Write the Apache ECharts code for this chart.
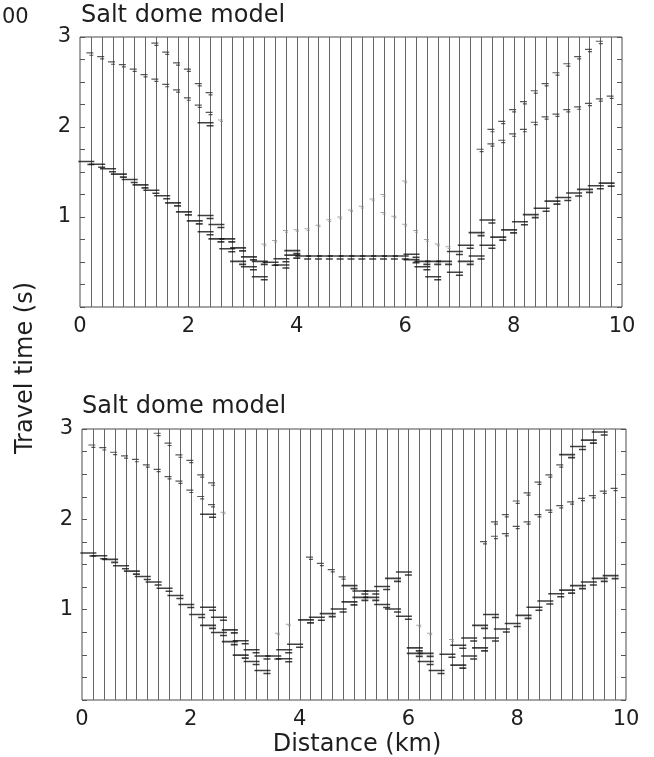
<!DOCTYPE html>
<html>
<head>
<meta charset="utf-8">
<title>Salt dome model</title>
<script src="https://cdn.jsdelivr.net/npm/echarts@6/dist/echarts.min.js"></script>
<style>
  html, body { margin: 0; padding: 0; background: #fff; }
  #chart { width: 654px; height: 757px; }
</style>
</head>
<body>
<div id="chart"></div>
<script>
// Receiver offsets (km): one vertical trace per offset
const offsets = [0.2, 0.4, 0.6, 0.8, 1.0, 1.2, 1.4, 1.6, 1.8, 2.0, 2.2, 2.4, 2.6, 2.8, 3.0, 3.2, 3.4,
  3.6, 3.8, 4.0, 4.2, 4.4, 4.6, 4.8, 5.0, 5.2, 5.4, 5.6, 5.8, 6.0, 6.2, 6.4, 6.6, 6.8, 7.0, 7.2,
  7.4, 7.6, 7.8, 8.0, 8.2, 8.4, 8.6, 8.8, 9.0, 9.2, 9.4, 9.6, 9.8];

const xTicks = [0, 2, 4, 6, 8, 10];
const yTicks = [1, 2, 3];

// ---- Upper model: picked arrivals [offset km, travel time s] ----
const topDirect = [[0.2,1.60],[0.4,1.57],[0.6,1.52],[0.8,1.46],[1.0,1.40],[1.2,1.34],[1.4,1.28],[1.6,1.22],
  [1.8,1.14],[2.0,1.04],[2.2,0.94],[2.4,0.82],[2.6,0.74],[2.8,0.63],[3.0,0.49],[3.2,0.43],[3.4,0.32]];
const topSecond = [[2.4,1.00],[2.6,0.90],[2.8,0.74],[3.0,0.64],[3.2,0.54],[3.4,0.49],[3.6,0.48],[3.8,0.52],[4.0,0.61]];
const topDomeTop = [[3.8,0.45],[4.0,0.56],[4.2,0.55],[4.4,0.55],[4.6,0.55],[4.8,0.55],[5.0,0.55],[5.2,0.55],
  [5.4,0.55],[5.6,0.55],[5.8,0.55],[6.0,0.55],[6.2,0.57],[6.4,0.49],[6.6,0.49],[6.8,0.49]];
const topRightFirst = [[7.0,0.60],[7.2,0.67],[7.4,0.81],[7.6,0.95]];
const topRightSecond = [[6.2,0.51],[6.4,0.43],[6.6,0.32],[7.0,0.37],[7.2,0.49],[7.4,0.55],[7.6,0.67],[7.8,0.76],
  [8.0,0.84],[8.2,0.93],[8.4,1.01],[8.6,1.08],[8.8,1.16],[9.0,1.20],[9.2,1.25],[9.4,1.29],[9.6,1.33],[9.8,1.36]];
const topUpperLeftA = [[0.2,2.81],[0.4,2.77],[0.6,2.71],[0.8,2.68],[1.0,2.63],[1.2,2.57],[1.4,2.52],[1.6,2.46],
  [1.8,2.40],[2.0,2.31],[2.2,2.23],[2.4,2.15]];
const topUpperLeftB = [[1.4,2.92],[1.6,2.82],[1.8,2.70],[2.0,2.63],[2.2,2.47],[2.4,2.37]];
const topUpperStrong = [[2.4,2.03]];
const topUpperRightA = [[7.6,1.96],[7.8,2.05],[8.0,2.18],[8.2,2.27],[8.4,2.39],[8.6,2.47],[8.8,2.59],[9.0,2.69],
  [9.2,2.77],[9.4,2.85],[9.6,2.94]];
const topUpperRightB = [[7.4,1.74],[7.6,1.80],[7.8,1.84],[8.0,1.91],[8.2,1.96],[8.4,2.04],[8.6,2.10],[8.8,2.13],
  [9.0,2.18],[9.2,2.21],[9.4,2.25],[9.6,2.30],[9.8,2.33]];
const topFaintRise = [[3.4,0.69],[3.6,0.73],[3.8,0.84],[4.0,0.85],[4.2,0.86],[4.4,0.90],[4.6,0.96],[4.8,0.99],
  [5.0,1.07],[5.2,1.11],[5.4,1.19],[5.6,1.24],[6.0,1.39]];
const topFaintFall = [[5.6,1.04],[5.8,1.00],[6.0,0.91],[6.2,0.84],[6.4,0.74],[6.6,0.69],[6.8,0.66],[2.6,2.07]];

// ---- Lower model ----
const botDirect = [[0.2,1.61],[0.4,1.58],[0.6,1.54],[0.8,1.47],[1.0,1.41],[1.2,1.35],[1.4,1.29],[1.6,1.22],
  [1.8,1.14],[2.0,1.04],[2.2,0.93],[2.4,0.81],[2.6,0.73],[2.8,0.63],[3.0,0.48],[3.2,0.41],[3.4,0.31]];
const botSecond = [[2.4,1.01],[2.6,0.90],[2.8,0.76],[3.0,0.64],[3.2,0.54],[3.4,0.47],[3.6,0.47],[3.8,0.54],
  [3.8,0.44],[4.0,0.60]];
const botCrossDown = [[5.0,1.25],[5.2,1.19],[5.4,1.12],[5.6,1.04],[5.8,0.99],[6.0,0.91]];
const botCrossDownWeak = [[4.2,1.57],[4.4,1.50],[4.6,1.43],[4.8,1.35]];
const botCrossUp = [[4.2,0.87],[4.4,0.90],[4.6,0.94],[4.8,0.99],[5.0,1.07],[5.2,1.12],[5.4,1.19],[5.6,1.24],
  [5.8,1.33],[6.0,1.40]];
const botRightFirst = [[6.2,0.56],[6.4,0.50],[6.8,0.49],[7.0,0.59],[7.2,0.67],[7.4,0.81],[7.6,0.93]];
const botRightSecond = [[6.2,0.50],[6.4,0.41],[6.6,0.31],[7.0,0.37],[7.2,0.47],[7.4,0.56],[7.6,0.67],[7.8,0.77],
  [8.0,0.83],[8.2,0.92],[8.4,1.01],[8.6,1.08],[8.8,1.16],[9.0,1.20],[9.2,1.25],[9.4,1.29],[9.6,1.33],[9.8,1.36]];
const botUpperLeftA = [[0.2,2.81],[0.4,2.78],[0.6,2.73],[0.8,2.69],[1.0,2.65],[1.2,2.59],[1.4,2.54],[1.6,2.46],
  [1.8,2.41],[2.0,2.31],[2.2,2.24],[2.4,2.15]];
const botUpperLeftB = [[1.4,2.94],[1.6,2.83],[1.8,2.70],[2.0,2.64],[2.2,2.48],[2.4,2.39]];
const botUpperStrong = [[2.4,2.04],[9.0,2.70],[9.2,2.79],[9.4,2.86],[9.6,2.95]];
const botUpperRightA = [[7.6,1.96],[7.8,2.04],[8.0,2.19],[8.2,2.28],[8.4,2.40],[8.6,2.48],[8.8,2.59]];
const botUpperRightB = [[7.4,1.74],[7.6,1.80],[7.8,1.83],[8.0,1.91],[8.2,1.96],[8.4,2.04],[8.6,2.09],[8.8,2.14],
  [9.0,2.18],[9.2,2.22],[9.4,2.25],[9.6,2.30],[9.8,2.33]];
const botFaint = [[3.6,0.73],[3.8,0.83],[6.2,0.82],[6.4,0.73],[6.8,0.66],[2.6,2.07]];

// ---- mark styles ----
const FONT = 'DejaVu Sans';
const INK = '#1e1e1e';
const MARKS = {
  strong: { symbol: 'path://M0 0H16V1.6H0Z M9 3H16V4.6H9Z', size: [16, 4.6], offset: [-4.5, 0], color: '#121212' },
  medium: { symbol: 'path://M0 0H7V1.2H0Z M3 2.3H7V3.5H3Z', size: [7, 3.5], offset: [-1, 0], color: '#2e2e2e' },
  faint:  { symbol: 'path://M0 0H5V1H0Z M2 1.6H5V2.6H2Z', size: [5, 2.6], offset: [-0.5, 0], color: '#8e8e8e' }
};

function picks(data, kind, panel) {
  const m = MARKS[kind];
  return {
    type: 'scatter',
    xAxisIndex: panel,
    yAxisIndex: panel * 2,
    data: data,
    symbol: m.symbol,
    symbolSize: m.size,
    symbolOffset: m.offset,
    itemStyle: { color: m.color },
    silent: true,
    animation: false,
    z: 5
  };
}

function traces(panel) {
  return {
    type: 'custom',
    xAxisIndex: panel,
    yAxisIndex: panel * 2,
    data: offsets.map(d => [d]),
    silent: true,
    animation: false,
    z: 1,
    renderItem: function (params, api) {
      const x = api.value(0);
      const a = api.coord([x, 0]);
      const b = api.coord([x, 3]);
      const px = Math.round(a[0]) + 0.5;
      return {
        type: 'line',
        shape: { x1: px, y1: a[1], x2: px, y2: b[1] },
        style: { stroke: '#666', lineWidth: 1 }
      };
    }
  };
}

function xAxisFor(panel) {
  return {
    gridIndex: panel, type: 'value', min: 0, max: 10, interval: 2,
    axisLine: { show: false }, axisTick: { show: false }, splitLine: { show: false },
    axisLabel: {
      margin: 9, fontFamily: FONT, fontSize: 21, color: INK,
      formatter: v => (xTicks.indexOf(v) >= 0 ? String(v) : '')
    }
  };
}

function yAxisFor(panel, side) {
  return {
    gridIndex: panel, type: 'value', min: 0, max: 3, interval: 0.25, position: side,
    axisLine: { show: false },
    axisTick: { show: true, inside: true, length: 5, lineStyle: { color: '#555', width: 1 } },
    splitLine: { show: false },
    axisLabel: {
      show: side === 'left', margin: 9, fontFamily: FONT, fontSize: 21, color: INK,
      formatter: v => (yTicks.indexOf(v) >= 0 ? String(v) : '')
    }
  };
}

const chart = echarts.init(document.getElementById('chart'), null, { renderer: 'canvas' });

chart.setOption({
  backgroundColor: '#ffffff',
  animation: false,
  title: [
    { text: 'Salt dome model', left: 81, top: 4, padding: 0,
      textStyle: { fontFamily: FONT, fontSize: 24, fontWeight: 'normal', color: INK } },
    { text: 'Salt dome model', left: 82, top: 395, padding: 0,
      textStyle: { fontFamily: FONT, fontSize: 24, fontWeight: 'normal', color: INK } }
  ],
  grid: [
    { left: 80, top: 37, width: 542, height: 270, show: true, borderColor: '#4a4a4a', borderWidth: 1,
      backgroundColor: 'transparent' },
    { left: 82, top: 429, width: 544, height: 271, show: true, borderColor: '#4a4a4a', borderWidth: 1,
      backgroundColor: 'transparent' }
  ],
  xAxis: [xAxisFor(0), xAxisFor(1)],
  yAxis: [yAxisFor(0, 'left'), yAxisFor(0, 'right'), yAxisFor(1, 'left'), yAxisFor(1, 'right')],
  graphic: [
    { type: 'text', left: 2, top: 7,
      style: { text: '00', fontFamily: FONT, fontSize: 21, fill: INK } },
    { type: 'text', x: 26, y: 368, rotation: Math.PI / 2,
      style: { text: 'Travel time (s)', fontFamily: FONT, fontSize: 24, fill: INK,
        align: 'center', verticalAlign: 'middle' } },
    { type: 'text', x: 357, y: 745,
      style: { text: 'Distance (km)', fontFamily: FONT, fontSize: 24, fill: INK,
        align: 'center', verticalAlign: 'middle' } }
  ],
  series: [
    traces(0),
    traces(1),
    // upper model
    picks(topDirect, 'strong', 0),
    picks(topSecond, 'strong', 0),
    picks(topDomeTop, 'strong', 0),
    picks(topRightFirst, 'strong', 0),
    picks(topRightSecond, 'strong', 0),
    picks(topUpperStrong, 'strong', 0),
    picks(topUpperLeftA, 'medium', 0),
    picks(topUpperLeftB, 'medium', 0),
    picks(topUpperRightA, 'medium', 0),
    picks(topUpperRightB, 'medium', 0),
    picks(topFaintRise, 'faint', 0),
    picks(topFaintFall, 'faint', 0),
    // lower model
    picks(botDirect, 'strong', 1),
    picks(botSecond, 'strong', 1),
    picks(botCrossDown, 'strong', 1),
    picks(botCrossUp, 'strong', 1),
    picks(botRightFirst, 'strong', 1),
    picks(botRightSecond, 'strong', 1),
    picks(botUpperStrong, 'strong', 1),
    picks(botCrossDownWeak, 'medium', 1),
    picks(botUpperLeftA, 'medium', 1),
    picks(botUpperLeftB, 'medium', 1),
    picks(botUpperRightA, 'medium', 1),
    picks(botUpperRightB, 'medium', 1),
    picks(botFaint, 'faint', 1)
  ]
});
</script>
</body>
</html>
